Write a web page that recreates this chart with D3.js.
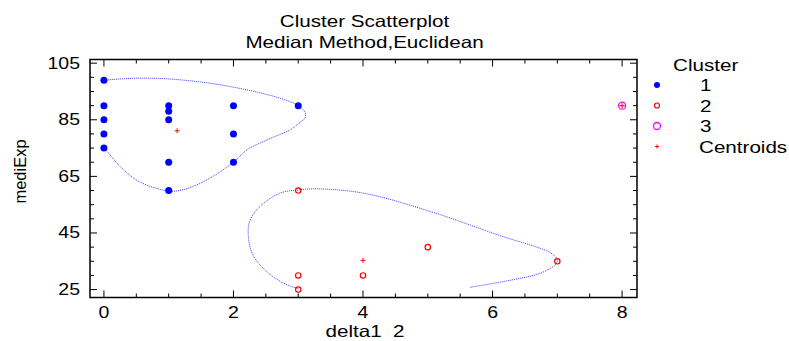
<!DOCTYPE html>
<html>
<head>
    <meta charset="utf-8">
    <script src="https://d3js.org/d3.v7.min.js"></script>
    <style>
        html, body {
            margin: 0;
            padding: 0;
            background: #fff;
        }
        svg text {
            font-family: "Liberation Sans", Arial, sans-serif;
            fill: #000;
            white-space: pre;
        }
    </style>
</head>
<body>
<div id="chart"></div>
<script>
    // values
    var cluster1X = [0, 0, 0, 0, 0, 1, 1, 1, 1, 1, 2, 2, 2, 3];
    var cluster1Y = [99, 90, 85, 80, 75, 90, 88, 85, 70, 60, 90, 80, 70, 90];
    var cluster2X = [3, 3, 3, 4, 5, 7];
    var cluster2Y = [60, 30, 25, 30, 40, 35];
    var cluster3X = [8];
    var cluster3Y = [90];
    var centroidX = [1.13, 4.0, 8];
    var centroidY = [81.1, 35.3, 90];

    // traced outlines (data units)
    var outline1X = [0, 0.51, 1.02, 1.64, 2.2, 2.72, 3.0, 3.11, 3.1, 3.0, 2.88, 2.52, 2.21, 2.0, 1.64, 1.38, 1.1, 0.85, 0.51, 0.25, 0.05, 0];
    var outline1Y = [99, 99.7, 99.4, 97.9, 95.6, 92.6, 90, 87.4, 85.5, 83.6, 81.5, 77.9, 74.4, 70, 64.4, 61.5, 59.8, 60.5, 63.6, 68.5, 73.8, 75];
    var outline2X = [3, 2.77, 2.51, 2.3, 2.23, 2.25, 2.41, 2.72, 3, 3.28, 4, 5.04, 6.07, 6.9, 7, 6.97, 6.74, 6.32, 5.65];
    var outline2Y = [25.3, 27.3, 31.4, 37.3, 43.8, 49.1, 54.4, 59.1, 60.2, 60.6, 59.1, 52.6, 44.4, 37.9, 35.5, 33.8, 30.8, 28.5, 25.8];

    var xTicks = [0, 2, 4, 6, 8];
    var xMinor = d3.range(0, 8.01, 0.5);
    var yTicks = [25, 45, 65, 85, 105];
    var yMinor = d3.range(25, 105.1, 5);

    var legendLabels = ["1", "2", "3", "Centroids"];

    var width = 789, height = 341;
    var plotL = 90, plotR = 637, plotT = 59.5, plotB = 297.5;
    var sx = 1.25; // horizontal text stretch of the original

    var svg = d3.select("#chart").append("svg")
        .attr("width", width)
        .attr("height", height);

    var x = d3.scaleLinear().domain([-0.215, 8.23]).range([plotL, plotR]);
    var y = d3.scaleLinear().domain([22.2, 106.3]).range([plotB, plotT]);

    var label = function (tx, ty, txt, size, anchor) {
        svg.append("g")
            .attr("transform", "translate(" + tx + "," + ty + ") scale(" + sx + ",1)")
            .append("text")
            .attr("font-size", size)
            .attr("text-anchor", anchor || "middle")
            .text(txt);
    };

    // titles
    label(364.5, 27, "Cluster Scatterplot", 16.5);
    label(364.5, 47.5, "Median Method,Euclidean", 16.5);
    label(365, 337, "delta1  2", 16.5);

    svg.append("text")
        .attr("transform", "translate(25.5," + 171.5 + ") rotate(-90)")
        .attr("font-size", 16.5)
        .attr("text-anchor", "middle")
        .text("mediExp");

    // ticks on all four sides, pointing inward
    var ticks = svg.append("g").attr("stroke", "#000").attr("stroke-width", 1);
    xMinor.forEach(function (v) {
        var len = xTicks.indexOf(v) >= 0 ? 7 : 4;
        ticks.append("line").attr("x1", x(v)).attr("x2", x(v)).attr("y1", plotB).attr("y2", plotB - len);
        ticks.append("line").attr("x1", x(v)).attr("x2", x(v)).attr("y1", plotT).attr("y2", plotT + len);
    });
    yMinor.forEach(function (v) {
        var len = yTicks.indexOf(v) >= 0 ? 7 : 4;
        ticks.append("line").attr("y1", y(v)).attr("y2", y(v)).attr("x1", plotL).attr("x2", plotL + len);
        ticks.append("line").attr("y1", y(v)).attr("y2", y(v)).attr("x1", plotR).attr("x2", plotR - len);
    });

    xTicks.forEach(function (v) {
        label(x(v), 318, String(v), 15.6);
    });
    yTicks.forEach(function (v) {
        label(80, y(v) + 5.5, String(v), 15.6, "end");
    });

    // outlines
    var line = d3.line()
        .x(function (d) { return x(d[0]); })
        .y(function (d) { return y(d[1]); })
        .curve(d3.curveCatmullRom.alpha(0.5));

    [[outline1X, outline1Y], [outline2X, outline2Y]].forEach(function (o) {
        svg.append("path")
            .attr("d", line(d3.zip(o[0], o[1])))
            .attr("fill", "none")
            .attr("stroke", "#3b3bff")
            .attr("stroke-width", 1)
            .attr("stroke-dasharray", "1,1");
    });

    // points
    svg.append("g").selectAll("circle")
        .data(d3.zip(cluster1X, cluster1Y))
        .enter().append("circle")
        .attr("cx", function (d) { return x(d[0]); })
        .attr("cy", function (d) { return y(d[1]); })
        .attr("r", 3.5)
        .attr("fill", "#0000ff");

    svg.append("g").selectAll("circle")
        .data(d3.zip(cluster2X, cluster2Y))
        .enter().append("circle")
        .attr("cx", function (d) { return x(d[0]); })
        .attr("cy", function (d) { return y(d[1]); })
        .attr("r", 2.7)
        .attr("fill", "none")
        .attr("stroke", "#ff0000")
        .attr("stroke-width", 1.2);

    svg.append("g").selectAll("circle")
        .data(d3.zip(cluster3X, cluster3Y))
        .enter().append("circle")
        .attr("cx", function (d) { return x(d[0]); })
        .attr("cy", function (d) { return y(d[1]); })
        .attr("r", 3.5)
        .attr("fill", "none")
        .attr("stroke", "#ff00ff")
        .attr("stroke-width", 1.3);

    var plus = function (g, cx, cy, s) {
        g.append("path")
            .attr("d", "M" + (cx - s) + "," + cy + "H" + (cx + s) + "M" + cx + "," + (cy - s) + "V" + (cy + s))
            .attr("stroke", "#ff0000")
            .attr("stroke-width", 1);
    };
    var cg = svg.append("g");
    d3.zip(centroidX, centroidY).forEach(function (d) {
        plus(cg, x(d[0]), y(d[1]), 2.5);
    });

    // frame
    svg.append("rect")
        .attr("x", plotL).attr("y", plotT)
        .attr("width", plotR - plotL).attr("height", plotB - plotT)
        .attr("fill", "none")
        .attr("stroke", "#000")
        .attr("stroke-width", 1.5);

    // legend
    label(673, 71, "Cluster", 16.5, "start");
    var ly = [85, 105.5, 126, 146.5];
    legendLabels.forEach(function (t, i) {
        label(i < 3 ? 700 : 699, ly[i] + 6, t, 16.5, "start");
    });
    var lg = svg.append("g");
    lg.append("circle").attr("cx", 657).attr("cy", ly[0]).attr("r", 3).attr("fill", "#0000ff");
    lg.append("circle").attr("cx", 657).attr("cy", ly[1]).attr("r", 2.5)
        .attr("fill", "none").attr("stroke", "#ff0000").attr("stroke-width", 1.2);
    lg.append("circle").attr("cx", 657).attr("cy", ly[2]).attr("r", 3.5)
        .attr("fill", "none").attr("stroke", "#ff00ff").attr("stroke-width", 1.3);
    plus(lg, 657, ly[3], 2);
</script>
</body>
</html>
